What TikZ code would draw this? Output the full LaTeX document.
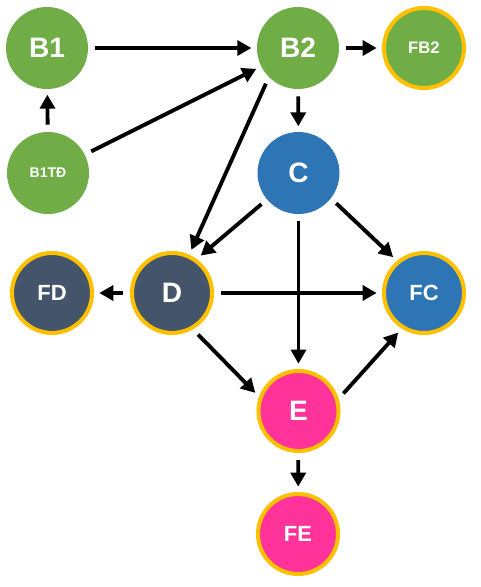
\documentclass[tikz,border=0pt]{standalone}
\usepackage{fontspec}
\setmainfont{Liberation Sans}
\usepackage[HTML]{xcolor}
\usepackage{tikz}
\usetikzlibrary{positioning, arrows, arrows.meta}

\definecolor{bgreen}{HTML}{70AD47}
\definecolor{cblue}{HTML}{2E75B6}
\definecolor{dnavy}{HTML}{44546A}
\definecolor{epink}{HTML}{FF3399}
\definecolor{fgold}{HTML}{FFC000}

\tikzset{
    state/.style={circle, inner sep=0pt, minimum size=1.64cm, text=white, font=\bfseries\fontsize{16}{16}\selectfont},
    ring/.style={state, draw=fgold, line width=2.3pt, minimum size=1.6cm},
    midtext/.style={font=\bfseries\fontsize{12.5}{12.5}\selectfont},
    smalltext/.style={font=\bfseries\fontsize{9.5}{9.5}\selectfont},
    tinytext/.style={font=\bfseries\fontsize{8}{8}\selectfont},
    flow/.style={-{Triangle[length=8pt,width=8.5pt]}, line width=2.2pt, shorten <=4pt, shorten >=3pt}
}

\begin{document}
\begin{tikzpicture}
    \useasboundingbox (0,0) rectangle (9.6,-11.74);
    % Define nodes
    \node[state, fill=bgreen] (B1) at (0.94,-0.96) {B1};
    \node[state, fill=bgreen] (B2) at (5.96,-0.96) {B2};
    \node[ring, smalltext, fill=bgreen] (FB2) at (8.48,-0.96) {FB2};
    \node[state, tinytext, fill=bgreen] (B1TD) at (0.96,-3.46) {B1TĐ};
    \node[state, fill=cblue] (C) at (5.97,-3.46) {C};
    \node[ring, midtext, fill=dnavy] (FD) at (1.04,-5.86) {FD};
    \node[ring, fill=dnavy] (D) at (3.44,-5.86) {D};
    \node[ring, midtext, fill=cblue] (FC) at (8.48,-5.86) {FC};
    \node[ring, fill=epink] (E) at (5.97,-8.22) {E};
    \node[ring, midtext, fill=epink] (FE) at (5.96,-10.68) {FE};

    % Draw arrows
    \draw[flow] (B1) -- (B2);
    \draw[flow] (B2) -- (FB2);
    \draw[flow] (B1TD) -- (B1);
    \draw[flow] (B1TD) -- (B2);
    \draw[flow] (B2) -- (C);
    \draw[flow] (B2.south west) -- (D);
    \draw[flow] (C.-140) -- (D.54);
    \draw[flow] (C.-38) -- (FC.130);
    \draw[flow] (C) -- (E);
    \draw[flow] (D) -- (FC);
    \draw[flow] (D) -- (FD);
    \draw[flow] (D.-60) -- (E.160);
    \draw[flow] (E.17) -- (FC.-122);
    \draw[flow] (E) -- (FE);
\end{tikzpicture}
\end{document}
